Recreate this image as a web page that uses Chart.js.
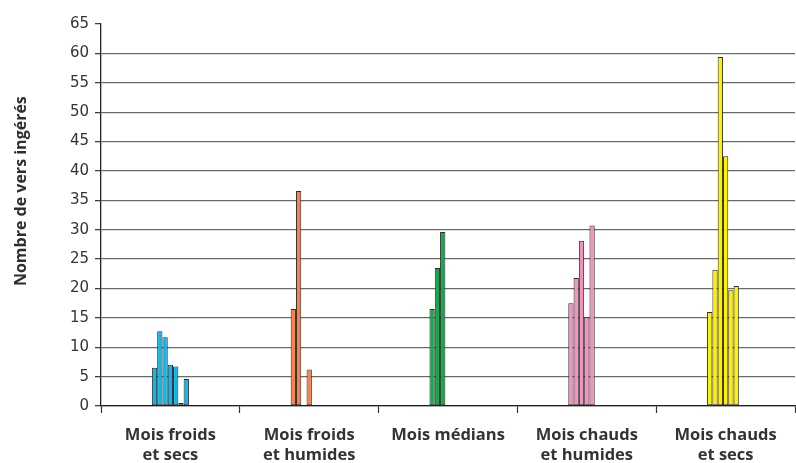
<!DOCTYPE html>
<html lang="fr">
<head>
<meta charset="utf-8">
<title>Nombre de vers ingérés selon la saison</title>
<script src="https://cdn.jsdelivr.net/npm/chart.js@4/dist/chart.umd.min.js"></script>
<style>
  html, body { margin: 0; padding: 0; background: #ffffff; }
  #wrap { width: 796px; height: 463px; position: relative; }
</style>
</head>
<body>
<div id="wrap"><canvas id="chart"></canvas></div>
<script>
// Saisons (catégories de l'axe horizontal)
const saisons = [
  ['Mois froids', 'et secs'],
  ['Mois froids', 'et humides'],
  ['Mois médians'],
  ['Mois chauds', 'et humides'],
  ['Mois chauds', 'et secs']
];

// Nombre de vers ingérés, mois par mois, dans chaque saison
const moisFroidsSecs     = [6.5, 12.7, 11.7, 7.0, 6.7, 0.5, 4.6];
const moisFroidsHumides  = [16.5, 36.6, 0, 6.2];
const moisMedians        = [16.5, 23.5, 29.6];
const moisChaudsHumides  = [17.5, 21.8, 28.1, 15.1, 30.7];
const moisChaudsSecs     = [16.0, 23.2, 59.4, 42.5, 19.7, 20.4];

// Graduations de l'axe vertical
const yMin = 0;
const yMax = 65;
const yPas = 5;

const couleursSaisons = ['#10b6e8', '#f5834f', '#15a94b', '#f092bd', '#fff000'];
const groupes = [moisFroidsSecs, moisFroidsHumides, moisMedians, moisChaudsHumides, moisChaudsSecs];
const nbMois = Math.max(...groupes.map(g => g.length));

// Un jeu de données par rang de mois : chaque saison y place sa valeur
const datasets = [];
for (let i = 0; i < nbMois; i++) {
  datasets.push({
    label: 'Mois ' + (i + 1),
    data: groupes.map(g => (i < g.length ? g[i] : null)),
    backgroundColor: couleursSaisons,
    borderColor: '#2b2b2b',
    borderWidth: 1,
    borderSkipped: false,
    inflateAmount: 0,
    categoryPercentage: 0.267,
    barPercentage: 1
  });
}

// Titre vertical de l'axe des ordonnées
const titreAxeY = {
  id: 'titreAxeY',
  afterDraw(chart) {
    const { ctx, chartArea } = chart;
    ctx.save();
    ctx.translate(21, chartArea.top + (chartArea.bottom - chartArea.top) * 0.4375);
    ctx.rotate(-Math.PI / 2);
    ctx.font = 'bold 16px "Open Sans", Lato, sans-serif';
    ctx.fillStyle = '#2e2e2e';
    ctx.textAlign = 'center';
    ctx.textBaseline = 'middle';
    ctx.fillText('Nombre de vers ingérés', 0, 0);
    ctx.restore();
  }
};

new Chart(document.getElementById('chart'), {
  type: 'bar',
  data: { labels: saisons, datasets },
  plugins: [titreAxeY],
  options: {
    responsive: true,
    maintainAspectRatio: false,
    animation: false,
    layout: { padding: { top: 24, right: 1, left: 0, bottom: 0 } },
    plugins: {
      legend: { display: false },
      tooltip: { enabled: false }
    },
    scales: {
      x: {
        offset: true,
        grid: {
          offset: true,
          drawOnChartArea: false,
          drawTicks: true,
          tickLength: 7,
          tickColor: '#333333',
          tickWidth: 1.2
        },
        border: { color: '#222222', width: 1.3 },
        ticks: {
          color: '#333333',
          font: { family: '"Open Sans", Lato, sans-serif', weight: 'bold', size: 16.5, lineHeight: 1.18 },
          maxRotation: 0,
          autoSkip: false,
          padding: 13
        },
        afterFit(scale) { scale.height = 57; }
      },
      y: {
        min: yMin,
        max: yMax,
        ticks: {
          stepSize: yPas,
          color: '#333333',
          font: { family: '"DejaVu Sans", sans-serif', size: 15 },
          padding: 6
        },
        grid: {
          color: (c) => (c.tick && c.tick.value === yMax ? 'rgba(0,0,0,0)' : '#6a6a6a'),
          lineWidth: 1.3,
          tickColor: '#333333',
          tickLength: 6,
          tickWidth: 1.2
        },
        border: { color: '#222222', width: 1.3 },
        afterFit(scale) { scale.width = 101; }
      }
    }
  }
});
</script>
</body>
</html>
